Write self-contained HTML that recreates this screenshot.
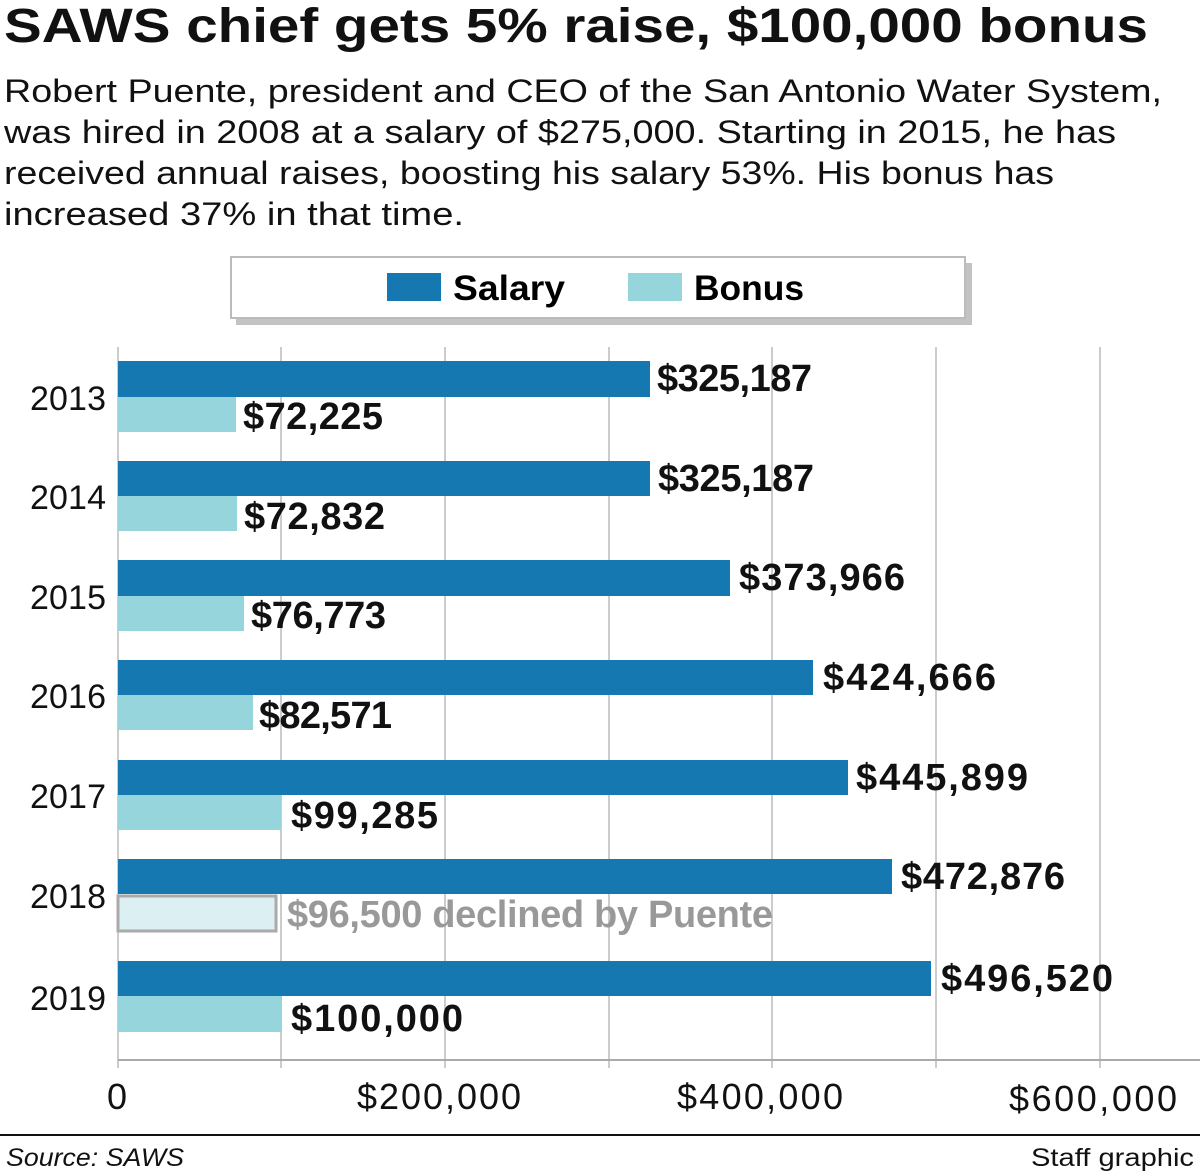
<!DOCTYPE html>
<html><head><meta charset="utf-8"><style>
body{margin:0;background:#fff;}
svg{display:block;font-family:"Liberation Sans",sans-serif;}
</style></head><body>
<svg width="1200" height="1174" viewBox="0 0 1200 1174" xmlns="http://www.w3.org/2000/svg">
<text x="4" y="42" font-size="48" font-weight="bold" textLength="1144" lengthAdjust="spacingAndGlyphs" fill="#111">SAWS chief gets 5% raise, $100,000 bonus</text>
<g font-size="32" fill="#111">
<text x="4" y="102" textLength="1158" lengthAdjust="spacingAndGlyphs">Robert Puente, president and CEO of the San Antonio Water System,</text>
<text x="4" y="143" textLength="1112" lengthAdjust="spacingAndGlyphs">was hired in 2008 at a salary of $275,000. Starting in 2015, he has</text>
<text x="4" y="184" textLength="1050" lengthAdjust="spacingAndGlyphs">received annual raises, boosting his salary 53%. His bonus has</text>
<text x="4" y="225" textLength="460" lengthAdjust="spacingAndGlyphs">increased 37% in that time.</text>
</g>
<!-- legend -->
<rect x="236" y="263" width="736" height="62" fill="#888" opacity="0.5"/>
<rect x="231" y="257" width="734" height="61" fill="#fff" stroke="#bbb" stroke-width="2"/>
<rect x="387" y="273" width="54" height="28" fill="#1578b0"/>
<text x="453" y="300" font-size="35" font-weight="bold" textLength="112" lengthAdjust="spacingAndGlyphs">Salary</text>
<rect x="628" y="273" width="54" height="28" fill="#96d5dc"/>
<text x="694" y="300" font-size="35" font-weight="bold" textLength="110" lengthAdjust="spacingAndGlyphs">Bonus</text>
<!-- grid -->
<g stroke="#bbb" stroke-width="1.5">
<line x1="118" y1="347" x2="118" y2="1068"/>
<line x1="281" y1="347" x2="281" y2="1068"/>
<line x1="445" y1="347" x2="445" y2="1068"/>
<line x1="609" y1="347" x2="609" y2="1068"/>
<line x1="772" y1="347" x2="772" y2="1068"/>
<line x1="936" y1="347" x2="936" y2="1068"/>
<line x1="1100" y1="347" x2="1100" y2="1068"/>
</g>
<line x1="118" y1="1060" x2="1200" y2="1060" stroke="#aaa" stroke-width="2"/>
<!-- bars -->
<g fill="#1578b0">
<rect x="118" y="361" width="532" height="36"/>
<rect x="118" y="461" width="532" height="35"/>
<rect x="118" y="560" width="612" height="36"/>
<rect x="118" y="660" width="695" height="35"/>
<rect x="118" y="760" width="730" height="35"/>
<rect x="118" y="859" width="774" height="35"/>
<rect x="118" y="961" width="813" height="35"/>
</g>
<g fill="#96d5dc">
<rect x="118" y="397" width="118" height="35"/>
<rect x="118" y="496" width="119" height="35"/>
<rect x="118" y="596" width="126" height="35"/>
<rect x="118" y="695" width="135" height="35"/>
<rect x="118" y="795" width="163" height="35"/>
<rect x="118" y="996" width="164" height="36"/>
</g>
<rect x="118" y="896" width="158" height="35" fill="#dcf0f3" stroke="#aaa" stroke-width="3"/>
<!-- year labels -->
<g font-size="34" fill="#111" lengthAdjust="spacingAndGlyphs">
<text x="30" y="410" textLength="76">2013</text>
<text x="30" y="509" textLength="76">2014</text>
<text x="30" y="609" textLength="76">2015</text>
<text x="30" y="708" textLength="76">2016</text>
<text x="30" y="808" textLength="76">2017</text>
<text x="30" y="908" textLength="76">2018</text>
<text x="30" y="1010" textLength="76">2019</text>
</g>
<!-- value labels -->
<g font-size="38" font-weight="bold" fill="#111" lengthAdjust="spacingAndGlyphs">
<text x="657" y="391" textLength="155">$325,187</text>
<text x="243" y="429" textLength="140">$72,225</text>
<text x="658" y="491" textLength="156">$325,187</text>
<text x="244" y="529" textLength="141">$72,832</text>
<text x="739" y="590" textLength="166">$373,966</text>
<text x="251" y="628" textLength="135">$76,773</text>
<text x="823" y="690" textLength="173">$424,666</text>
<text x="259" y="728" textLength="133">$82,571</text>
<text x="856" y="790" textLength="172">$445,899</text>
<text x="291" y="828" textLength="147">$99,285</text>
<text x="901" y="889" textLength="164">$472,876</text>
<text x="287" y="927" textLength="486" fill="#999">$96,500 declined by Puente</text>
<text x="941" y="991" textLength="172">$496,520</text>
<text x="291" y="1031" textLength="172">$100,000</text>
</g>
<!-- axis labels -->
<g font-size="36" fill="#111" lengthAdjust="spacingAndGlyphs">
<text x="107" y="1109" textLength="22">0</text>
<text x="357" y="1109" textLength="164">$200,000</text>
<text x="677" y="1109" textLength="166">$400,000</text>
<text x="1009" y="1111" textLength="168">$600,000</text>
</g>
<line x1="0" y1="1135" x2="1200" y2="1135" stroke="#111" stroke-width="2"/>
<text x="6" y="1166" font-size="25" font-style="italic" fill="#111" textLength="178" lengthAdjust="spacingAndGlyphs">Source: SAWS</text>
<text x="1031" y="1166" font-size="25" fill="#111" textLength="163" lengthAdjust="spacingAndGlyphs">Staff graphic</text>
</svg>
</body></html>
